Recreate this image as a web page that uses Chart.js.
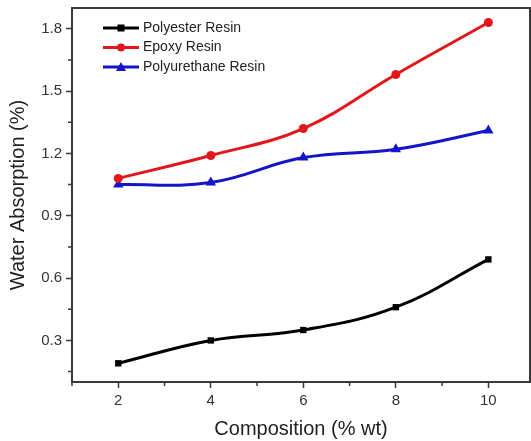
<!DOCTYPE html>
<html lang="en">
<head>
    <meta charset="UTF-8">
    <title>Water Absorption</title>
    <style>
        body { margin: 0; padding: 0; background: #fff; overflow: hidden; }
        #wrap { width: 531px; height: 441px; position: relative; }
    </style>
    <script src="https://cdn.jsdelivr.net/npm/chart.js"></script>
</head>
<body>
    <div id="wrap"><canvas id="absChart"></canvas></div>

    <script>
        const composition = [2, 4, 6, 8, 10];
        const polyesterValues = [0.19, 0.30, 0.35, 0.46, 0.69];
        const epoxyValues = [1.08, 1.19, 1.32, 1.58, 1.83];
        const polyurethaneValues = [1.05, 1.06, 1.18, 1.22, 1.31];

        const xTicks = [2, 4, 6, 8, 10];
        const xMinorTicks = [1, 3, 5, 7, 9];
        const yTicks = [0.3, 0.6, 0.9, 1.2, 1.5, 1.8];
        const yMinorTicks = [0.15, 0.45, 0.75, 1.05, 1.35, 1.65];

        const axisColor = '#3a3a3a';
        const fontFamily = '"Liberation Sans", Arial, sans-serif';

        function pts(values) {
            return composition.map((x, i) => ({ x: x, y: values[i] }));
        }

        // cadre + petites graduations + légende dans la zone du graphe
        const framePlugin = {
            id: 'frame',
            afterDraw(chart) {
                const ctx = chart.ctx;
                const a = chart.chartArea;
                const xs = chart.scales.x;
                const ys = chart.scales.y;
                ctx.save();
                ctx.strokeStyle = axisColor;
                ctx.lineWidth = 2;
                ctx.strokeRect(a.left, a.top, a.right - a.left, a.bottom - a.top);

                ctx.lineWidth = 1.5;
                ctx.beginPath();
                xMinorTicks.forEach(v => {
                    const px = xs.getPixelForValue(v);
                    ctx.moveTo(px, a.bottom);
                    ctx.lineTo(px, a.bottom + 4);
                });
                yMinorTicks.forEach(v => {
                    const py = ys.getPixelForValue(v);
                    ctx.moveTo(a.left, py);
                    ctx.lineTo(a.left - 4, py);
                });
                ctx.stroke();

                // légende
                const lx = a.left + 31;
                let ly = 28;
                chart.data.datasets.forEach(ds => {
                    ctx.strokeStyle = ds.borderColor;
                    ctx.fillStyle = ds.borderColor;
                    ctx.lineWidth = 3;
                    ctx.beginPath();
                    ctx.moveTo(lx, ly);
                    ctx.lineTo(lx + 36, ly);
                    ctx.stroke();
                    const cx = lx + 18;
                    ctx.beginPath();
                    if (ds.pointStyle === 'rect') {
                        ctx.fillRect(cx - 3.5, ly - 3.5, 7, 7);
                    } else if (ds.pointStyle === 'circle') {
                        ctx.arc(cx, ly, 4, 0, Math.PI * 2);
                        ctx.fill();
                    } else {
                        ctx.moveTo(cx, ly - 5);
                        ctx.lineTo(cx + 5, ly + 4);
                        ctx.lineTo(cx - 5, ly + 4);
                        ctx.closePath();
                        ctx.fill();
                    }
                    ctx.fillStyle = '#222';
                    ctx.font = '14px ' + fontFamily;
                    ctx.textBaseline = 'middle';
                    ctx.fillText(ds.label, lx + 40, ly);
                    ly += 19.5;
                });
                ctx.restore();
            }
        };

        const chart = new Chart(document.getElementById('absChart'), {
            type: 'line',
            data: {
                datasets: [
                    {
                        label: 'Polyester Resin',
                        data: pts(polyesterValues),
                        borderColor: '#000000',
                        backgroundColor: '#000000',
                        pointStyle: 'rect',
                        pointRadius: 4.5
                    },
                    {
                        label: 'Epoxy Resin',
                        data: pts(epoxyValues),
                        borderColor: '#e3171b',
                        backgroundColor: '#e3171b',
                        pointStyle: 'circle',
                        pointRadius: 4.5
                    },
                    {
                        label: 'Polyurethane Resin',
                        data: pts(polyurethaneValues),
                        borderColor: '#1414c8',
                        backgroundColor: '#1414c8',
                        pointStyle: 'triangle',
                        pointRadius: 6
                    }
                ]
            },
            options: {
                responsive: true,
                maintainAspectRatio: false,
                animation: false,
                layout: { autoPadding: false, padding: { top: 8, right: 1, left: 0, bottom: 0 } },
                elements: {
                    line: { borderWidth: 3, tension: 0.4, fill: false },
                    point: { borderWidth: 0 }
                },
                plugins: {
                    legend: { display: false },
                    tooltip: { enabled: false }
                },
                scales: {
                    x: {
                        type: 'linear',
                        min: 1,
                        max: 10.9,
                        afterBuildTicks: s => { s.ticks = xTicks.map(v => ({ value: v })); },
                        afterFit: s => { s.height = 59; s.paddingRight = 0; s.paddingLeft = 0; },
                        grid: { drawOnChartArea: false, drawTicks: true, tickLength: 6, tickWidth: 1.5, tickColor: axisColor },
                        border: { display: false },
                        ticks: { color: '#333', font: { family: fontFamily, size: 15 }, padding: 4 },
                        title: {
                            display: true,
                            text: 'Composition (% wt)',
                            color: '#222',
                            font: { family: fontFamily, size: 20 },
                            padding: { top: 0, bottom: 0 }
                        }
                    },
                    y: {
                        min: 0.1,
                        max: 1.9,
                        afterBuildTicks: s => { s.ticks = yTicks.map(v => ({ value: v })); },
                        afterFit: s => { s.width = 72; s.paddingTop = 0; s.paddingBottom = 0; },
                        grid: { drawOnChartArea: false, drawTicks: true, tickLength: 6, tickWidth: 1.5, tickColor: axisColor },
                        border: { display: false },
                        ticks: {
                            color: '#333',
                            font: { family: fontFamily, size: 15 },
                            padding: 4,
                            callback: v => v.toFixed(1)
                        },
                        title: {
                            display: true,
                            text: 'Water Absorption (%)',
                            color: '#222',
                            font: { family: fontFamily, size: 20 },
                            padding: { top: 6, bottom: 0 }
                        }
                    }
                }
            },
            plugins: [framePlugin]
        });
    </script>
</body>
</html>
